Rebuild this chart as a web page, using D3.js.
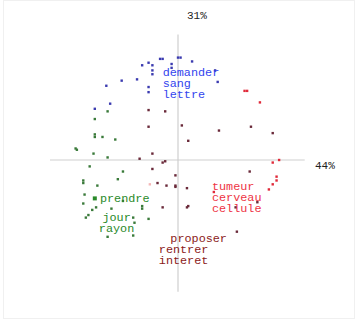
<!DOCTYPE html>
<html><head><meta charset="utf-8">
<script src="https://cdn.jsdelivr.net/npm/d3@7"></script>
<style>body{margin:0;background:#fff}svg{display:block}</style>
</head><body>
<script>
// Axis inertia labels
const axisLabels = ["44%", "31%"];
// point coordinates (factor 1, factor 2) per cluster
const bluePts = [[-0.14,0.79],[-0.12,0.79],[0,0.80],[0.02,0.80],[-0.28,0.74],[-0.23,0.76],[-0.2,0.74],[-0.2,0.70],[-0.2,0.67],[-0.05,0.75],[-0.32,0.63],[-0.44,0.62],[-0.56,0.58],[-0.23,0.57],[-0.23,0.53],[-0.65,0.40],[-0.53,0.44],[0.11,0.77],[0.29,0.70],[0.31,0.61],[-0.05,0.72]];
const redPts = [[0.74,-0.02],[0.79,0.0],[0.77,-0.13],[0.77,-0.16],[0.74,-0.19],[0.71,-0.23],[0.52,0.54],[0.54,0.54],[0.64,0.45],[0.28,-0.25]];
const maroonPts = [[0.03,0.27],[0.32,0.23],[0.57,0.26],[0.74,0.21],[0.08,0.15],[-0.1,0.38],[-0.23,0.39],[-0.23,0.26],[-0.2,0.05],[-0.3,0.01],[-0.12,-0.02],[-0.1,-0.01],[-0.02,-0.12],[-0.02,-0.2],[-0.09,-0.2],[-0.16,-0.18],[-0.2,-0.07],[0.07,-0.22],[0.07,-0.37],[-0.12,-0.37],[0.08,-0.36],[0.46,-0.56],[0.56,-0.09],[-0.02,-0.21],[0.62,-0.33],[0.45,-0.37]];
const greenPts = [[-0.55,0.38],[-0.65,0.32],[-0.65,0.18],[-0.65,0.20],[-0.59,0.18],[-0.49,0.16],[-0.8,0.09],[-0.79,0.08],[-0.66,0.05],[-0.55,0.02],[-0.69,-0.05],[-0.43,-0.09],[-0.74,-0.16],[-0.74,-0.18],[-0.63,-0.2],[-0.47,-0.15],[-0.73,-0.27],[-0.74,-0.34],[-0.64,-0.37],[-0.67,-0.39],[-0.70,-0.43],[-0.72,-0.45],[-0.52,-0.38],[-0.28,-0.36],[-0.28,-0.38],[-0.35,-0.45],[-0.34,-0.49],[-0.23,-0.46],[-0.55,-0.6],[-0.35,-0.59],[-0.43,-0.32]];
const pinkPts = [[-0.22,-0.19]];
// cluster label words
const blueWords = ["demander","sang","lettre"];
const greenTop = ["prendre"];
const greenWords = ["jour","rayon"];
const redWords = ["tumeur","cerveau","cellule"];
const maroonTop = ["proposer"];
const maroonWords = ["rentrer","interet"];
// label anchor positions (factor coords)
const blueAnchor = [-0.12, 0.655];
const greenTopAnchor = [-0.61, -0.33];
const greenAnchor = [-0.48, -0.48];
const redAnchor = [0.265, -0.235];
const maroonTopAnchor = [-0.06, -0.64];
const maroonAnchor = [-0.15, -0.725];

const W = 358, H = 322;
const svg = d3.select("body").append("svg").attr("width", W).attr("height", H);
svg.append("rect").attr("x",3.5).attr("y",0.5).attr("width",351).attr("height",318)
  .attr("fill","none").attr("stroke","#f0f0f0");

const x = d3.scaleLinear().domain([-1,1]).range([50,306]);
const y = d3.scaleLinear().domain([-1,1]).range([288,32]);

// axes
svg.append("line").attr("x1",x(-1)).attr("x2",x(0.99)).attr("y1",y(0)).attr("y2",y(0))
  .attr("stroke","#cfcfcf").attr("stroke-width",1.2);
svg.append("line").attr("x1",x(0)).attr("x2",x(0)).attr("y1",y(0.98)).attr("y2",y(-1.03))
  .attr("stroke","#cfcfcf").attr("stroke-width",1.2);
svg.append("text").attr("x",x(1.07)).attr("y",y(0)+9).text(axisLabels[0])
  .attr("font-family","Liberation Mono").attr("font-size",11).attr("fill","#222");
svg.append("text").attr("x",x(0.07)).attr("y",y(1.13)+4).text(axisLabels[1])
  .attr("font-family","Liberation Mono").attr("font-size",11).attr("fill","#222");

function pts(data, color){
  svg.append("g").selectAll("rect").data(data).join("rect")
    .attr("x", d=>x(d[0])-1.2).attr("y", d=>y(d[1])-1.2)
    .attr("width",2.4).attr("height",2.4).attr("fill",color);
}
pts(bluePts, "#3b3bb0");
pts(redPts, "#e02a3a");
pts(maroonPts, "#6a2a3a");
pts(greenPts, "#3a7a3a");
pts(pinkPts, "#f4b8b8");
// big green square
svg.append("rect").attr("x",x(-0.65)-2).attr("y",y(-0.30)-2).attr("width",4).attr("height",4).attr("fill","#2a8a2a");

function words(list, anchor, color, align){
  svg.append("g").selectAll("text").data(list).join("text")
    .attr("x", x(anchor[0])).attr("y",(d,i)=>y(anchor[1])+i*11)
    .attr("text-anchor", align || "start")
    .attr("font-family","Liberation Mono").attr("font-size",11.8).attr("fill",color)
    .text(d=>d);
}
words(blueWords, blueAnchor, "#3344ee");
words(greenTop, greenTopAnchor, "#2a8a2a");
words(greenWords, greenAnchor, "#2a8a2a", "middle");
words(redWords, redAnchor, "#ee3344");
words(maroonTop, maroonTopAnchor, "#8b1a1a");
words(maroonWords, maroonAnchor, "#8b1a1a");
</script>
</body></html>
